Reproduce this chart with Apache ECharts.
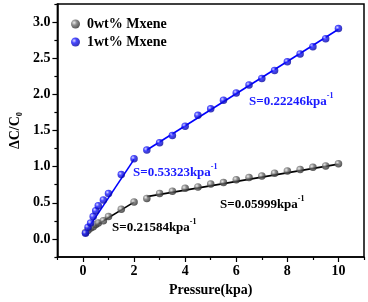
<!DOCTYPE html>
<html>
<head>
<meta charset="utf-8">
<script src="https://cdn.jsdelivr.net/npm/echarts@6/dist/echarts.min.js"></script>
<style>
  html, body { margin: 0; padding: 0; background: #fff; }
  #chart { width: 368px; height: 302px; }
</style>
</head>
<body>
<div id="chart"></div>
<script>
// pressure (kPa)
const pressureLow = [0.1, 0.2, 0.3, 0.4, 0.5, 0.6, 0.8, 1.0, 1.5, 2.0]
const pressureHigh = [2.5, 3, 3.5, 4, 4.5, 5, 5.5, 6, 6.5, 7, 7.5, 8, 8.5, 9, 9.5, 10]

// dC/C0
const mx0Low = [0.09, 0.12, 0.15, 0.17, 0.20, 0.22, 0.25, 0.31, 0.41, 0.51]
const mx0High = [0.56, 0.63, 0.66, 0.70, 0.72, 0.76, 0.78, 0.82, 0.85, 0.87, 0.91, 0.94, 0.96, 0.99, 1.01, 1.04]
const mx1Low = [0.08, 0.16, 0.22, 0.31, 0.39, 0.46, 0.54, 0.63, 0.89, 1.11]
const mx1High = [1.23, 1.33, 1.43, 1.56, 1.71, 1.80, 1.92, 2.02, 2.13, 2.22, 2.33, 2.45, 2.56, 2.66, 2.77, 2.91]

// linear fit end points
const fit0Low = [[0.1, 0.10], [2.0, 0.51]]
const fit0High = [[2.5, 0.585], [10, 1.035]]
const fit1Low = [[0.1, 0.09], [2.0, 1.10]]
const fit1High = [[2.5, 1.23], [10, 2.90]]

const seriesNames = ['0wt% Mxene', '1wt% Mxene']
const slopes = ['0.21584', '0.05999', '0.53323', '0.22246']

const xMajor = [0, 2, 4, 6, 8, 10]
const xMinor = [-1, 1, 3, 5, 7, 9, 11]
const yMajor = [0, 0.5, 1, 1.5, 2, 2.5, 3]
const yMinor = [-0.25, 0.25, 0.75, 1.25, 1.75, 2.25, 2.75, 3.25]

const FONT = '"Liberation Serif", "Times New Roman", serif'
const BLUE = '#1a1aff'

const pair = (xs, ys) => xs.map((x, i) => [x, ys[i]])

const greyBall = {
  type: 'radial', x: 0.35, y: 0.35, r: 0.75,
  colorStops: [{ offset: 0, color: '#e6e6e6' }, { offset: 0.4, color: '#6e6e6e' }, { offset: 1, color: '#1e1e1e' }]
}
const blueBall = {
  type: 'radial', x: 0.35, y: 0.35, r: 0.75,
  colorStops: [{ offset: 0, color: '#d0d0ff' }, { offset: 0.35, color: '#1a1aff' }, { offset: 1, color: '#000090' }]
}

function fitLine(data, color) {
  return {
    type: 'line', data: data, symbol: 'none', z: 1, silent: true,
    lineStyle: { color: color, width: 1.6 }
  }
}

function scatter(name, data, color) {
  return {
    name: name, type: 'scatter', data: data, symbolSize: 7.5, z: 3,
    itemStyle: { color: color }
  }
}

function slopeLabel(left, top, slope, color) {
  return {
    type: 'text', left: left, top: top,
    style: {
      text: '{m|S=' + slope + 'kpa}{s|-1}',
      fill: color,
      rich: {
        m: { fontFamily: FONT, fontWeight: 'bold', fontSize: 13, fill: color, verticalAlign: 'bottom', lineHeight: 16 },
        s: { fontFamily: FONT, fontWeight: 'bold', fontSize: 8, fill: color, verticalAlign: 'top', lineHeight: 16, padding: [0, 0, 6, 0] }
      }
    }
  }
}

const chart = echarts.init(document.getElementById('chart'))
chart.setOption({
  animation: false,
  grid: { left: 49, right: 4, top: 4, bottom: 45, show: true, borderColor: '#000', borderWidth: 1.5 },
  legend: {
    data: seriesNames,
    orient: 'vertical', left: 66, top: 12, itemGap: 4,
    icon: 'circle', itemWidth: 9, itemHeight: 9,
    textStyle: { fontFamily: FONT, fontWeight: 'bold', fontSize: 14, color: '#000', padding: [0, 0, 0, 2] }
  },
  xAxis: [{
    type: 'value', min: -1, max: 11,
    name: 'Pressure(kpa)', nameLocation: 'middle', nameGap: 24,
    nameTextStyle: { fontFamily: FONT, fontWeight: 'bold', fontSize: 14, color: '#000' },
    axisLine: { onZero: false, lineStyle: { color: '#000', width: 1.5 } },
    axisTick: { customValues: xMajor, length: 5, lineStyle: { color: '#000', width: 1.2 } },
    axisLabel: { customValues: xMajor, fontFamily: FONT, fontWeight: 'bold', fontSize: 14, color: '#000', margin: 7 },
    splitLine: { show: false }
  }, {
    type: 'value', min: -1, max: 11, position: 'bottom',
    axisLine: { show: false, onZero: false },
    axisTick: { customValues: xMinor, length: 3, lineStyle: { color: '#000', width: 1.2 } },
    axisLabel: { show: false },
    splitLine: { show: false }
  }],
  yAxis: [{
    type: 'value', min: -0.25, max: 3.25,
    name: 'ΔC/C₀', nameLocation: 'middle', nameGap: 34,
    nameTextStyle: { fontFamily: FONT, fontWeight: 'bold', fontSize: 14, color: '#000' },
    axisLine: { show: true, onZero: false, lineStyle: { color: '#000', width: 1.5 } },
    axisTick: { show: true, customValues: yMajor, length: 5, lineStyle: { color: '#000', width: 1.2 } },
    axisLabel: {
      customValues: yMajor, fontFamily: FONT, fontWeight: 'bold', fontSize: 14, color: '#000', margin: 7,
      formatter: v => v.toFixed(1)
    },
    splitLine: { show: false }
  }, {
    type: 'value', min: -0.25, max: 3.25, position: 'left',
    axisLine: { show: false, onZero: false },
    axisTick: { show: true, customValues: yMinor, length: 3, lineStyle: { color: '#000', width: 1.2 } },
    axisLabel: { show: false },
    splitLine: { show: false }
  }],
  series: [
    fitLine(fit0Low, '#000'),
    fitLine(fit0High, '#000'),
    fitLine(fit1Low, '#0000ff'),
    fitLine(fit1High, '#0000ff'),
    scatter(seriesNames[0], pair(pressureLow, mx0Low).concat(pair(pressureHigh, mx0High)), greyBall),
    scatter(seriesNames[1], pair(pressureLow, mx1Low).concat(pair(pressureHigh, mx1High)), blueBall)
  ],
  graphic: [
    slopeLabel(112, 218, slopes[0], '#000'),
    slopeLabel(220, 195, slopes[1], '#000'),
    slopeLabel(133, 163, slopes[2], BLUE),
    slopeLabel(249, 92, slopes[3], BLUE)
  ]
})
</script>
</body>
</html>
